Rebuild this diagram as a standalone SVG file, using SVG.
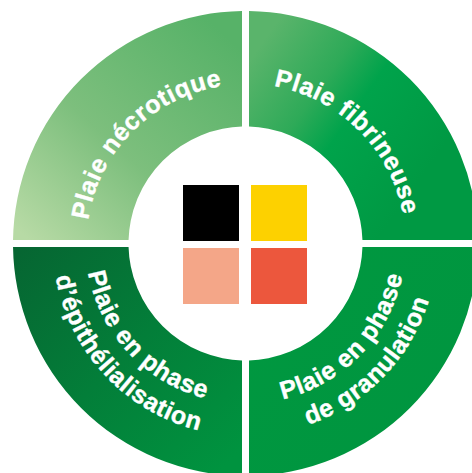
<svg xmlns="http://www.w3.org/2000/svg" xmlns:xlink="http://www.w3.org/1999/xlink" width="472" height="473" viewBox="0 0 472 473">
  <style>
    .lbl { font-family: "Liberation Sans", Arial, Helvetica, sans-serif; font-weight: bold; font-size: 25px; fill: #ffffff; stroke: #ffffff; stroke-width: 0.4px; letter-spacing: 0.6px; }
  </style>
  <defs>
    <path id="ring" fill-rule="evenodd" d="M13,243.5 A232.5,232.5 0 1 1 478,243.5 A232.5,232.5 0 1 1 13,243.5 Z M128.5,243.5 A117,117 0 1 0 362.5,243.5 A117,117 0 1 0 128.5,243.5 Z"/>
    <clipPath id="cTL"><rect x="0" y="0" width="242" height="240"/></clipPath>
    <clipPath id="cTR"><rect x="249" y="0" width="240" height="240"/></clipPath>
    <clipPath id="cBL"><rect x="0" y="247" width="242" height="240"/></clipPath>
    <clipPath id="cBR"><rect x="249" y="247" width="240" height="240"/></clipPath>
    <linearGradient id="gTL" gradientUnits="userSpaceOnUse" x1="40" y1="250" x2="230" y2="40">
      <stop offset="0" stop-color="#B7DAA5"/>
      <stop offset="0.45" stop-color="#7DBF7D"/>
      <stop offset="1" stop-color="#57B268"/>
    </linearGradient>
    <linearGradient id="gTR" gradientUnits="userSpaceOnUse" x1="250" y1="60" x2="420" y2="180">
      <stop offset="0" stop-color="#5AB46B"/>
      <stop offset="0.35" stop-color="#2EAA58"/>
      <stop offset="0.55" stop-color="#00A34B"/>
      <stop offset="1" stop-color="#009943"/>
    </linearGradient>
    <linearGradient id="gBL" gradientUnits="userSpaceOnUse" x1="20" y1="250" x2="230" y2="460">
      <stop offset="0" stop-color="#066632"/>
      <stop offset="0.5" stop-color="#037E39"/>
      <stop offset="1" stop-color="#00933F"/>
    </linearGradient>
    <linearGradient id="gBR" gradientUnits="userSpaceOnUse" x1="250" y1="250" x2="470" y2="470">
      <stop offset="0" stop-color="#009840"/>
      <stop offset="1" stop-color="#00953F"/>
    </linearGradient>
    <path id="pTL" d="M123.7,345.7 A159,159 0 0 1 347.7,121.7"/>
    <path id="pTR" d="M142.7,120.9 A160,160 0 0 1 368.1,346.3"/>
    <path id="pBL1" d="M126.6,136.4 A160,160 0 0 0 344.0,369.6"/>
    <path id="pBL2" d="M102.1,114.4 A193,193 0 0 0 364.3,395.6"/>
    <path id="pBR1" d="M144.8,367.8 A160,160 0 0 0 366.3,138.5"/>
    <path id="pBR2" d="M124.7,392.7 A192,192 0 0 0 390.4,117.5"/>
  </defs>
  <rect width="472" height="473" fill="#ffffff"/>
  <g id="quad-necrotique">
    <use xlink:href="#ring" href="#ring" fill="url(#gTL)" clip-path="url(#cTL)"/>
    <text class="lbl"><textPath xlink:href="#pTL" href="#pTL" startOffset="50%" text-anchor="middle">Plaie nécrotique</textPath></text>
  </g>
  <g id="quad-fibrineuse">
    <use xlink:href="#ring" href="#ring" fill="url(#gTR)" clip-path="url(#cTR)"/>
    <text class="lbl"><textPath xlink:href="#pTR" href="#pTR" startOffset="50%" text-anchor="middle">Plaie fibrineuse</textPath></text>
  </g>
  <g id="quad-epithelialisation">
    <use xlink:href="#ring" href="#ring" fill="url(#gBL)" clip-path="url(#cBL)"/>
    <text class="lbl"><textPath xlink:href="#pBL1" href="#pBL1" startOffset="50%" text-anchor="middle">Plaie en phase</textPath></text>
    <text class="lbl"><textPath xlink:href="#pBL2" href="#pBL2" startOffset="50%" text-anchor="middle">d’épithélialisation</textPath></text>
  </g>
  <g id="quad-granulation">
    <use xlink:href="#ring" href="#ring" fill="url(#gBR)" clip-path="url(#cBR)"/>
    <text class="lbl"><textPath xlink:href="#pBR1" href="#pBR1" startOffset="50%" text-anchor="middle">Plaie en phase</textPath></text>
    <text class="lbl"><textPath xlink:href="#pBR2" href="#pBR2" startOffset="50%" text-anchor="middle">de granulation</textPath></text>
  </g>
  <g id="center-swatches">
    <rect x="183" y="185" width="56" height="56" fill="#000000"/>
    <rect x="251" y="185" width="56" height="56" fill="#FDD100"/>
    <rect x="183" y="248" width="56" height="56" fill="#F4A688"/>
    <rect x="251" y="248" width="56" height="56" fill="#EC573D"/>
  </g>
  <g id="connectors"/>
</svg>
